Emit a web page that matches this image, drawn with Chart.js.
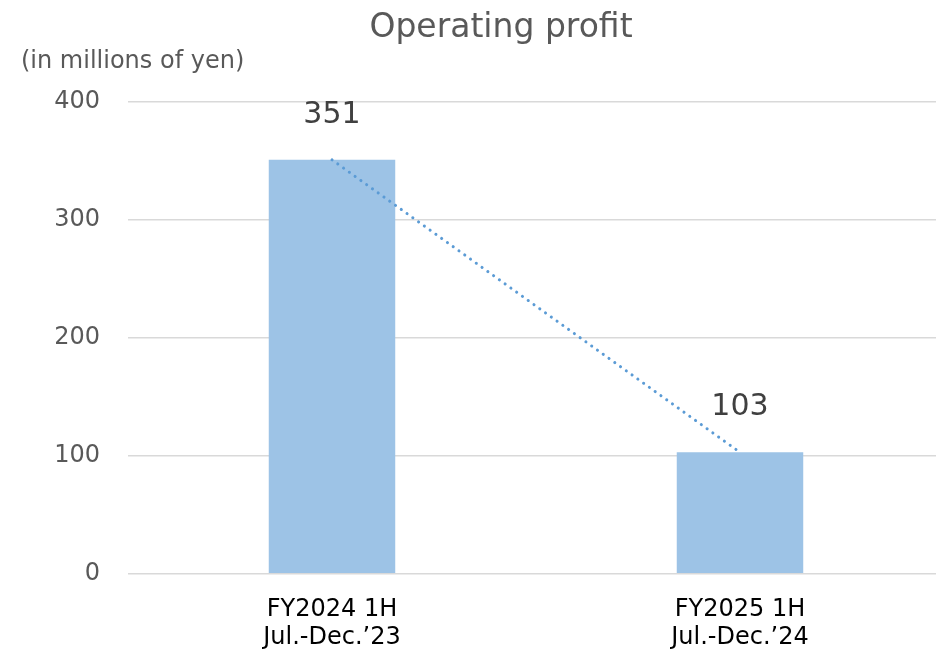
<!DOCTYPE html>
<html>
<head>
<meta charset="utf-8">
<script src="https://cdn.jsdelivr.net/npm/chart.js@4.4.1/dist/chart.umd.min.js"></script>
<style>
  html, body { margin: 0; padding: 0; background: #fff; overflow: hidden; }
  #wrap { width: 944px; height: 672px; }
</style>
</head>
<body>
<div id="wrap"><canvas id="chart"></canvas></div>
<script>
const categories = [['FY2024 1H', 'Jul.-Dec.\u201923'], ['FY2025 1H', 'Jul.-Dec.\u201924']];
const profit = [351, 103];
const yTicks = [0, 100, 200, 300, 400];
const chartTitle = 'Operating profit';
const unitLabel = '(in millions of yen)';

const FONT = "'DejaVu Sans', Verdana, sans-serif";

// title, unit label and value labels
const textPlugin = {
  id: 'texts',
  afterDatasetsDraw(chart) {
    const ctx = chart.ctx;
    const area = chart.chartArea;
    ctx.save();
    ctx.fillStyle = '#595959';
    ctx.textBaseline = 'middle';
    ctx.textAlign = 'center';
    ctx.font = '33px ' + FONT;
    ctx.fillText(chartTitle, 501, 28);
    ctx.textAlign = 'left';
    ctx.font = '24px ' + FONT;
    ctx.fillText(unitLabel, area.left - 107, 62);

    const meta = chart.getDatasetMeta(0);
    ctx.fillStyle = '#404040';
    ctx.textAlign = 'center';
    ctx.font = '30px ' + FONT;
    meta.data.forEach((bar, i) => {
      ctx.fillText(String(profit[i]), bar.x, bar.y - 45);
    });
    ctx.restore();
  }
};

new Chart(document.getElementById('chart'), {
  data: {
    labels: categories,
    datasets: [
      {
        type: 'line',
        data: profit,
        borderColor: '#5b9bd5',
        borderWidth: 3,
        borderDash: [0.1, 7],
        borderCapStyle: 'round',
        pointRadius: 0,
        order: 0
      },
      {
        type: 'bar',
        data: profit,
        backgroundColor: '#9dc3e6',
        barPercentage: 0.62,
        categoryPercentage: 0.5,
        order: 1
      }
    ]
  },
  options: {
    responsive: true,
    maintainAspectRatio: false,
    animation: false,
    layout: { padding: { top: 102, right: 0, bottom: 6, left: 0 } },
    plugins: {
      legend: { display: false },
      tooltip: { enabled: false }
    },
    scales: {
      x: {
        grid: { display: false },
        border: { display: false },
        ticks: {
          color: '#000',
          padding: 14,
          font: { family: FONT, size: 24, lineHeight: 1.17 }
        }
      },
      y: {
        min: 0,
        max: 400,
        afterBuildTicks(scale) { scale.ticks = yTicks.map(v => ({ value: v })); },
        afterFit(scale) { scale.width = 128; },
        grid: { color: '#d9d9d9', lineWidth: 1.5, drawTicks: false },
        border: { display: false },
        ticks: {
          color: '#595959',
          padding: 28,
          font: { family: FONT, size: 24 }
        }
      }
    }
  },
  plugins: [textPlugin]
});
</script>
</body>
</html>
